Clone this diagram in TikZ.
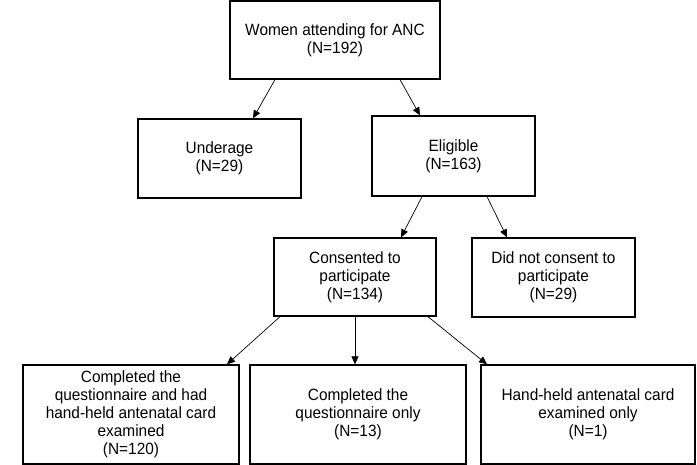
\documentclass[tikz,border=0pt]{standalone}
\usepackage{fontspec}
\setmainfont{Liberation Sans}[FakeStretch=0.945]
\usetikzlibrary{arrows.meta,positioning}

\begin{document}
\begin{tikzpicture}[
    x=1pt, y=-1pt,
    font=\fontsize{16.3}{18}\selectfont,
    box/.style={draw, line width=1.3pt, align=center, inner sep=0pt},
    arrow/.style={-{Triangle[length=8pt,width=7pt]}, line width=0.7pt}
]
\useasboundingbox (0,0) rectangle (697,465);
\node[box, minimum width=210pt, minimum height=78pt] (anc) at (335,40) {Women attending for ANC\\(N=192)};
\node[box, minimum width=163pt, minimum height=79pt] (under) at (219.5,158.5) {Underage\\(N=29)};
\node[box, minimum width=163pt, minimum height=80pt] (elig) at (453.5,156) {Eligible\\(N=163)};
\node[box, minimum width=162pt, minimum height=78pt] (cons) at (355,277) {Consented to\\participate\\(N=134)};
\node[box, minimum width=163pt, minimum height=79pt] (nocons) at (553.5,277.5) {Did not consent to\\participate\\(N=29)};
\node[box, minimum width=216pt, minimum height=99pt] (both) at (131,414.5) {Completed the\\questionnaire and had\\hand-held antenatal card\\examined\\(N=120)};
\node[box, minimum width=216pt, minimum height=99pt] (qonly) at (358,414.5) {Completed the\\questionnaire only\\(N=13)};
\node[box, minimum width=214pt, minimum height=99pt] (cardonly) at (588,414.5) {Hand-held antenatal card\\examined only\\(N=1)};
% arrows
\draw[arrow] ([xshift=-60pt]anc.south) -- ([xshift=33.5pt]under.north);
\draw[arrow] ([xshift=65pt]anc.south) -- ([xshift=-33.5pt]elig.north);
\draw[arrow] ([xshift=-31.5pt]elig.south) -- ([xshift=46pt]cons.north);
\draw[arrow] ([xshift=33.5pt]elig.south) -- ([xshift=-46.5pt]nocons.north);
\draw[arrow] ([xshift=-75pt]cons.south) -- ([xshift=96pt]both.north);
\draw[arrow] (cons.south) -- (cons.south |- qonly.north);
\draw[arrow] ([xshift=73pt]cons.south) -- ([xshift=-101pt]cardonly.north);
\end{tikzpicture}
\end{document}
